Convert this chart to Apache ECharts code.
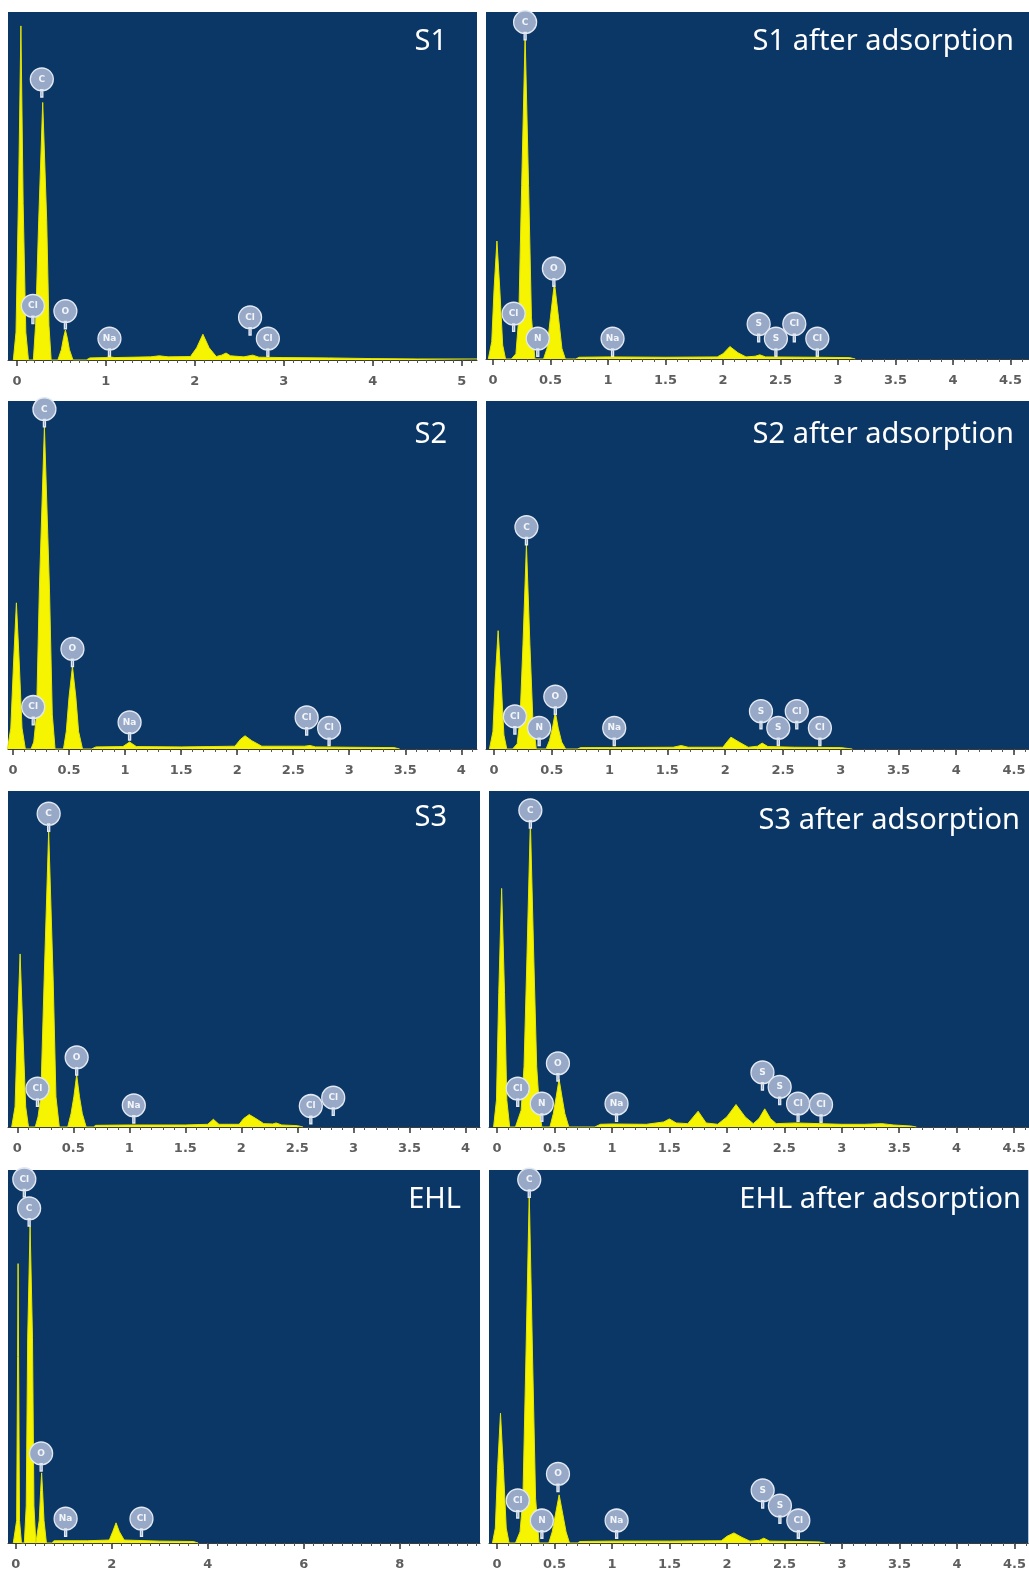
<!DOCTYPE html>
<html>
<head>
<meta charset="utf-8">
<title>EDS spectra</title>
<script src="https://cdn.jsdelivr.net/npm/echarts@6/dist/echarts.min.js"></script>
<style>
  html, body { margin: 0; padding: 0; background: #fff; }
  #main { width: 1029px; height: 1577px; }
</style>
</head>
<body>
<div id="main"></div>
<script>
// spectra: [energy keV, counts as % of panel full scale]
var s1Spectrum = [[-0.04,0],[-0.01,8],[0.02,50],[0.045,96],[0.07,45],[0.1,8],[0.13,0],
  [0.185,0],[0.21,10],[0.245,40],[0.29,74],[0.335,40],[0.36,10],[0.385,0],
  [0.46,0],[0.5,3],[0.525,6.5],[0.545,8.6],[0.565,6.5],[0.59,3],[0.63,0],
  [0.78,0],[0.82,0.6],[1.0,0.7],[1.04,0.9],[1.1,0.7],[1.5,0.9],[1.6,1.2],[1.7,0.9],[1.95,1.0],
  [2.02,3.5],[2.09,7.4],[2.16,3.5],[2.24,1.0],[2.3,1.4],[2.35,2.0],[2.4,1.2],[2.55,0.9],[2.65,1.4],
  [2.72,0.8],[3.0,0.7],[3.5,0.6],[4.0,0.4],[4.5,0.3],[5.17,0.3]];
var s1AfterSpectrum = [[-0.04,0],[-0.01,5],[0.01,20],[0.035,34],[0.06,20],[0.085,4],[0.11,0],
  [0.16,0],[0.2,1.5],[0.225,12],[0.25,50],[0.28,93],[0.31,50],[0.335,12],[0.365,0],
  [0.44,0],[0.47,3],[0.5,12],[0.535,22],[0.57,12],[0.6,3],[0.63,0],
  [0.72,0],[0.75,0.5],[1.0,0.6],[1.5,0.5],[1.95,0.6],[2.0,1.5],[2.06,3.6],[2.13,1.8],[2.2,0.6],
  [2.28,0.8],[2.32,1.2],[2.37,0.6],[2.8,0.5],[3.1,0.4],[3.15,0]];
var s2Spectrum = [[-0.05,0],[-0.02,6],[0.005,25],[0.03,42],[0.055,25],[0.08,6],[0.11,0],
  [0.16,0],[0.185,2],[0.21,10],[0.235,46],[0.28,92.6],[0.325,46],[0.35,10],[0.375,0],
  [0.45,0],[0.475,5],[0.5,15],[0.53,23.7],[0.56,15],[0.585,5],[0.62,0],
  [0.7,0],[0.74,0.6],[0.98,0.7],[1.04,2.0],[1.1,0.7],[1.5,0.6],[1.75,0.7],[1.98,0.8],
  [2.03,2.8],[2.07,3.8],[2.13,2.4],[2.22,0.8],[2.4,0.8],[2.6,0.8],[2.65,1.0],[2.7,0.6],
  [3.0,0.5],[3.4,0.4],[3.45,0]];
var s2AfterSpectrum = [[-0.04,0],[-0.01,5],[0.01,20],[0.035,34],[0.06,20],[0.085,4],[0.11,0],
  [0.16,0],[0.2,1.5],[0.225,9],[0.25,30],[0.28,58.7],[0.31,30],[0.335,9],[0.365,0],
  [0.45,0],[0.48,2.5],[0.505,6],[0.53,10.6],[0.555,6],[0.585,2],[0.62,0],
  [0.72,0],[0.75,0.4],[1.0,0.4],[1.55,0.5],[1.62,1.0],[1.68,0.5],[1.98,0.5],[2.02,2.2],
  [2.05,3.4],[2.12,2.0],[2.2,0.5],[2.28,0.8],[2.32,1.7],[2.37,0.7],[2.6,0.5],[3.0,0.4],[3.1,0]];
var s3Spectrum = [[-0.05,0],[-0.02,6],[0.0,28],[0.025,51.5],[0.05,28],[0.075,6],[0.1,0],
  [0.16,0],[0.185,3],[0.21,9],[0.24,44],[0.28,88],[0.32,44],[0.345,9],[0.375,0],
  [0.45,0],[0.48,4],[0.505,9],[0.53,15.5],[0.555,9],[0.58,4],[0.615,0],
  [0.68,0],[0.7,0.5],[1.0,0.6],[1.5,0.6],[1.7,0.8],[1.75,2.3],[1.8,0.8],[1.98,0.8],
  [2.02,2.5],[2.07,3.7],[2.13,2.5],[2.2,1.0],[2.28,0.9],[2.31,1.2],[2.36,0.6],[2.5,0.4],[2.55,0]];
var s3AfterSpectrum = [[-0.03,0],[-0.005,8],[0.015,40],[0.04,71],[0.065,40],[0.085,8],[0.11,0],
  [0.16,0],[0.21,5],[0.235,18],[0.26,50],[0.29,91],[0.32,50],[0.345,18],[0.37,5],[0.39,0],
  [0.46,0],[0.49,4],[0.515,9],[0.54,14.2],[0.565,9],[0.59,4],[0.625,0],
  [0.85,0],[0.9,0.8],[1.0,0.9],[1.3,0.8],[1.45,1.5],[1.5,2.4],[1.56,1.2],[1.66,1.0],
  [1.75,4.7],[1.82,1.2],[1.92,0.8],[2.0,3.0],[2.08,6.7],[2.16,3.0],[2.23,1.0],[2.28,2.5],
  [2.33,5.4],[2.38,2.5],[2.43,1.0],[2.6,1.2],[3.0,0.8],[3.2,0.8],[3.35,1.0],[3.45,0.6],
  [3.6,0.3],[3.65,0]];
var ehlSpectrum = [[-0.05,0],[0.02,6],[0.04,50],[0.05,74.9],[0.06,50],[0.08,6],[0.12,0],
  [0.18,0],[0.22,10],[0.25,55],[0.3,85],[0.35,55],[0.38,10],[0.42,0],
  [0.45,0],[0.49,6],[0.52,14],[0.54,18.8],[0.56,14],[0.59,6],[0.64,0],
  [0.75,0],[0.8,0.6],[1.5,0.6],[1.95,0.8],[2.02,3],[2.09,5.4],[2.16,3],[2.26,0.8],
  [3.0,0.5],[3.7,0.4],[3.8,0]];
var ehlAfterSpectrum = [[-0.04,0],[-0.015,4],[0.005,20],[0.03,34.8],[0.055,20],[0.08,4],[0.105,0],
  [0.16,0],[0.2,3],[0.225,12],[0.25,48],[0.28,93.6],[0.31,48],[0.335,12],[0.365,0],
  [0.45,0],[0.48,3],[0.51,8],[0.54,12.9],[0.57,8],[0.6,3],[0.63,0],
  [0.7,0],[0.72,0.4],[1.0,0.5],[1.5,0.5],[1.95,0.6],[2.0,1.8],[2.06,2.7],[2.13,1.5],
  [2.2,0.5],[2.28,0.7],[2.32,1.3],[2.37,0.5],[2.6,0.4],[2.8,0.3],[2.85,0]];

// element markers: [symbol, energy keV, height where the marker stem ends]
var s1Peaks = [['Cl',0.18,10.5],['C',0.28,75.6],['O',0.545,9],['Na',1.04,1.1],['Cl',2.62,7.2],['Cl',2.82,1.1]];
var s1AfterPeaks = [['Cl',0.18,8],['C',0.28,92],['N',0.39,0.8],['O',0.53,21],['Na',1.04,0.8],
  ['S',2.31,5],['S',2.46,0.8],['Cl',2.62,5],['Cl',2.82,0.8]];
var s2Peaks = [['Cl',0.18,7],['C',0.28,92.6],['O',0.53,23.7],['Na',1.04,2.6],['Cl',2.62,4],['Cl',2.82,1]];
var s2AfterPeaks = [['Cl',0.18,4.3],['C',0.28,58.7],['N',0.39,1],['O',0.53,10],['Na',1.04,1],
  ['S',2.31,5.8],['S',2.46,1],['Cl',2.62,5.8],['Cl',2.82,1]];
var s3Peaks = [['Cl',0.18,6.2],['C',0.28,88],['O',0.53,15.5],['Na',1.04,1.2],['Cl',2.62,1],['Cl',2.82,3.5]];
var s3AfterPeaks = [['Cl',0.18,6.2],['C',0.29,89],['N',0.39,1.7],['O',0.53,13.7],['Na',1.04,1.7],
  ['S',2.31,11],['S',2.46,6.7],['Cl',2.62,1.7],['Cl',2.82,1.4]];
var ehlPeaks = [['Cl',0.18,92.8],['C',0.28,85],['O',0.53,19.3],['Na',1.04,1.8],['Cl',2.62,1.8]];
var ehlAfterPeaks = [['Cl',0.18,6.7],['C',0.28,92.7],['N',0.39,1.3],['O',0.53,13.8],['Na',1.04,1.3],
  ['S',2.31,9.4],['S',2.46,5.3],['Cl',2.62,1.3]];

// tick labels (keV)
var ticksWhole = [0, 1, 2, 3, 4, 5];
var ticksHalf45 = [0, 0.5, 1, 1.5, 2, 2.5, 3, 3.5, 4, 4.5];
var ticksHalf4 = [0, 0.5, 1, 1.5, 2, 2.5, 3, 3.5, 4];
var ticksEven = [0, 2, 4, 6, 8];

var myChart = echarts.init(document.getElementById('main'));

// panel frames in px
var panels = [
  {title: 'S1', spec: s1Spectrum, peaks: s1Peaks, ticks: ticksWhole, step: 0.1, min: -0.1, max: 5.17,
   left: 8, top: 12, width: 469, height: 348, tx: 447, ty: 42},
  {title: 'S1 after adsorption', spec: s1AfterSpectrum, peaks: s1AfterPeaks, ticks: ticksHalf45, step: 0.1, min: -0.06, max: 4.66,
   left: 486, top: 12, width: 543, height: 347, tx: 1014, ty: 42},
  {title: 'S2', spec: s2Spectrum, peaks: s2Peaks, ticks: ticksHalf4, step: 0.1, min: -0.045, max: 4.14,
   left: 8, top: 401, width: 469, height: 348, tx: 447, ty: 435},
  {title: 'S2 after adsorption', spec: s2AfterSpectrum, peaks: s2AfterPeaks, ticks: ticksHalf45, step: 0.1, min: -0.07, max: 4.63,
   left: 486, top: 401, width: 543, height: 348, tx: 1014, ty: 435},
  {title: 'S3', spec: s3Spectrum, peaks: s3Peaks, ticks: ticksHalf4, step: 0.1, min: -0.083, max: 4.13,
   left: 8, top: 791, width: 472, height: 336, tx: 447, ty: 818},
  {title: 'S3 after adsorption', spec: s3AfterSpectrum, peaks: s3AfterPeaks, ticks: ticksHalf45, step: 0.1, min: -0.07, max: 4.63,
   left: 489, top: 791, width: 540, height: 336, tx: 1020, ty: 821},
  {title: 'EHL', spec: ehlSpectrum, peaks: ehlPeaks, ticks: ticksEven, step: 0.2, min: -0.16, max: 9.67,
   left: 8, top: 1170, width: 472, height: 373, tx: 461, ty: 1200},
  {title: 'EHL after adsorption', spec: ehlAfterSpectrum, peaks: ehlAfterPeaks, ticks: ticksHalf45, step: 0.1, min: -0.07, max: 4.62,
   left: 489, top: 1170, width: 540, height: 373, tx: 1021, ty: 1200}
];

function minorTicks(max, step) {
  var out = [];
  for (var v = step; v < max; v += step) out.push(Math.round(v * 100) / 100);
  return out;
}

// circle-with-stem marker used by the EDS software
var markerPath = 'path://M11,0A11,11,0,1,1,10.99,0ZM10,21h2v7h-2Z';

var grids = [], xAxes = [], yAxes = [], series = [], graphics = [];
panels.forEach(function (p, i) {
  grids.push({
    left: p.left, top: p.top, width: p.width, height: p.height,
    show: true, backgroundColor: '#0b3767', borderWidth: 0
  });
  xAxes.push({
    type: 'value', gridIndex: i, min: p.min, max: p.max, position: 'bottom',
    axisLine: {show: true, onZero: false, lineStyle: {color: '#3c3c3c', width: 1}},
    axisTick: {show: true, length: 6, customValues: p.ticks, lineStyle: {color: '#333', width: 1.5}},
    axisLabel: {show: true, customValues: p.ticks, margin: 15, color: '#5e5e5e',
      fontSize: 13, fontWeight: 'bold', fontFamily: 'DejaVu Sans'},
    splitLine: {show: false}
  });
  xAxes.push({
    type: 'value', gridIndex: i, min: p.min, max: p.max, position: 'bottom', offset: 0,
    axisLine: {show: false},
    axisTick: {show: true, length: 3, customValues: minorTicks(p.max, p.step), lineStyle: {color: '#555', width: 1}},
    axisLabel: {show: false},
    splitLine: {show: false}
  });
  yAxes.push({type: 'value', gridIndex: i, min: 0, max: 100, show: false});
  series.push({
    type: 'line', xAxisIndex: i * 2, yAxisIndex: i,
    data: p.spec, symbol: 'none', silent: true,
    lineStyle: {color: '#e4e400', width: 1},
    areaStyle: {color: '#f6f400', opacity: 1},
    markPoint: {
      symbol: markerPath, symbolSize: [23, 29], symbolOffset: [0, '-50%'],
      itemStyle: {color: '#97a9c6', borderColor: '#e3e9f3', borderWidth: 1.4},
      label: {show: true, formatter: '{b}', offset: [0, -3], color: '#f2f5fa',
        fontSize: 9, fontWeight: 'bold', fontFamily: 'DejaVu Sans'},
      data: p.peaks.map(function (k) { return {name: k[0], coord: [k[1], k[2]]}; })
    }
  });
  graphics.push({
    type: 'text', x: p.tx, y: p.ty, z: 100,
    style: {text: p.title, fill: '#ffffff', font: '29px "Noto Sans"', align: 'right', verticalAlign: 'middle'}
  });
});

var option = {
  animation: false,
  backgroundColor: '#ffffff',
  grid: grids,
  xAxis: xAxes,
  yAxis: yAxes,
  series: series,
  graphic: graphics
};

myChart.setOption(option);
</script>
</body>
</html>
